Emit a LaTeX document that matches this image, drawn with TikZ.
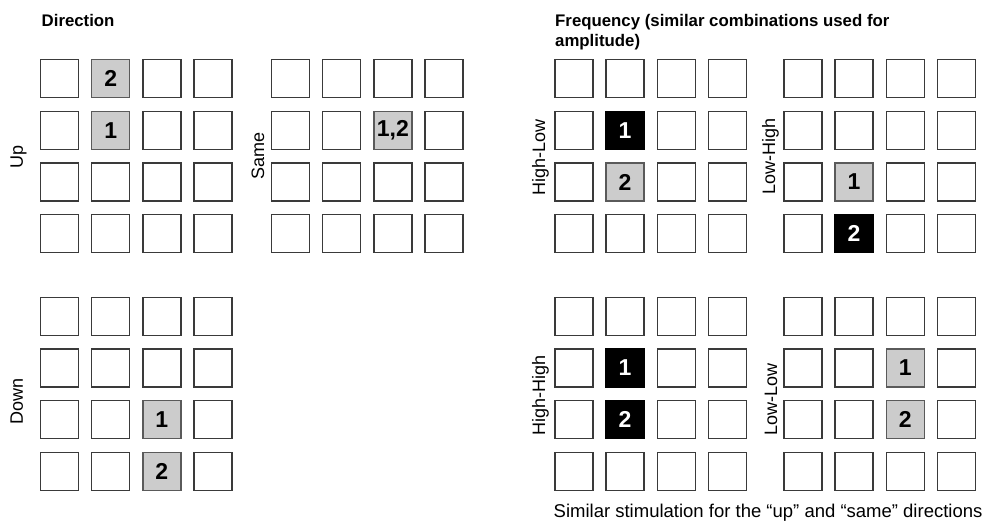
\documentclass[tikz,border=0pt]{standalone}
\usepackage{fontspec}
\setmainfont{Liberation Sans}
\definecolor{cellline}{HTML}{3A3A3A}
\definecolor{cellgray}{HTML}{CCCCCC}
\definecolor{graydraw}{HTML}{5A5A5A}
\tikzset{
  cell/.style={draw=cellline, line width=1.3pt, fill=white, minimum size=38pt, inner sep=0pt,
    font=\bfseries\fontsize{23}{23}\selectfont},
  graycell/.style={fill=cellgray, draw=graydraw},
  blackcell/.style={fill=black, draw=black, text=white},
  sidelabel/.style={rotate=90, anchor=base, font=\fontsize{18}{20}\selectfont, inner sep=0pt},
  title/.style={font=\bfseries\fontsize{16.8}{20}\selectfont, inner sep=0pt, align=left},
  caption/.style={font=\fontsize{18.5}{22}\selectfont, inner sep=0pt},
  % special cells
  U-1-2/.style={graycell}, U-2-2/.style={graycell},
  S-2-3/.style={graycell},
  D-3-3/.style={graycell}, D-4-3/.style={graycell},
  HL-2-2/.style={blackcell}, HL-3-2/.style={graycell},
  LH-3-2/.style={graycell}, LH-4-2/.style={blackcell},
  HH-2-2/.style={blackcell}, HH-3-2/.style={blackcell},
  LL-2-3/.style={graycell}, LL-3-3/.style={graycell},
}
\expandafter\def\csname lblU-1-2\endcsname{2}
\expandafter\def\csname lblU-2-2\endcsname{1}
\expandafter\def\csname lblS-2-3\endcsname{1,2}
\expandafter\def\csname lblD-3-3\endcsname{1}
\expandafter\def\csname lblD-4-3\endcsname{2}
\expandafter\def\csname lblHL-2-2\endcsname{1}
\expandafter\def\csname lblHL-3-2\endcsname{2}
\expandafter\def\csname lblLH-3-2\endcsname{1}
\expandafter\def\csname lblLH-4-2\endcsname{2}
\expandafter\def\csname lblHH-2-2\endcsname{1}
\expandafter\def\csname lblHH-3-2\endcsname{2}
\expandafter\def\csname lblLL-2-3\endcsname{1}
\expandafter\def\csname lblLL-3-3\endcsname{2}
\newcommand\cellgrid[3]{%
  \foreach \r in {1,...,4}{%
    \foreach \c in {1,...,4}{%
      \node[cell, #1-\r-\c/.try] (#1-\r-\c) at ({#2+19.65+(\c-1)*51.1},{#3+19.65+(\r-1)*51.7})
        {\csname lbl#1-\r-\c\endcsname};
    }%
  }%
}
\begin{document}
\begin{tikzpicture}[x=1pt,y=-1pt]
  \useasboundingbox (0,0) rectangle (983,522);
  \cellgrid{U}{40}{59}
  \cellgrid{S}{271}{59}
  \cellgrid{D}{40}{296.7}
  \cellgrid{HL}{554.3}{59}
  \cellgrid{LH}{783.3}{59}
  \cellgrid{HH}{554.3}{296.7}
  \cellgrid{LL}{783.3}{296.7}
  \node[title, anchor=base west] (dir) at (41.5,26.5) {Direction};
  \node[title, anchor=north west] (freq) at (555,14) {Frequency (similar combinations used for\\amplitude)};
  \node[sidelabel] (lup) at (23,156.7) {Up};
  \node[sidelabel] (lsame) at (264,155.8) {Same};
  \node[sidelabel] (ldown) at (23,401.7) {Down};
  \node[sidelabel] (lhl) at (545,157) {High-Low};
  \node[sidelabel] (llh) at (775,156.5) {Low-High};
  \node[sidelabel] (lhh) at (545,395) {High-High};
  \node[sidelabel] (lll) at (777,399) {Low-Low};
  \node[caption, anchor=base west] (cap) at (553.5,517) {Similar stimulation for the “up” and “same” directions};
\end{tikzpicture}
\end{document}
